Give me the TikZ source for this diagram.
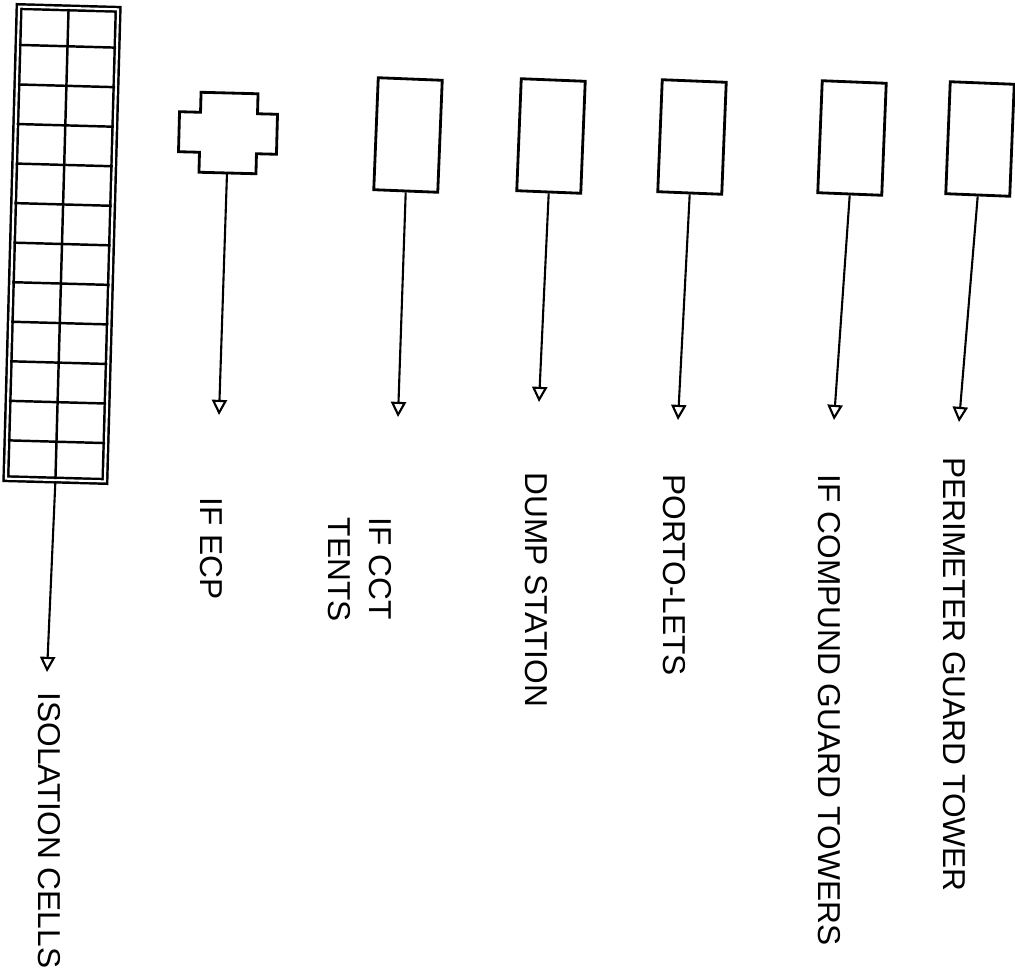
\documentclass[tikz,border=0pt]{standalone}
\usepackage{fontspec}
\setmainfont{Liberation Sans}
\usetikzlibrary{arrows.meta, calc}

\begin{document}
\begin{tikzpicture}[
      x=0.01cm, y=-0.01cm,
      box/.style={draw, line width=0.8pt, minimum width=0.64cm, minimum height=1.12cm, inner sep=0pt, rotate=-2.3},
      arr/.style={-{Triangle[open, length=4.3pt, width=4.3pt]}, line width=0.6pt},
      lbl/.style={font=\fontsize{9}{11.7}\selectfont, rotate=-90, anchor=west, inner sep=0pt},
   ]
      \useasboundingbox (0,0) rectangle (1015,979);

      % isolation cells
      \node[draw, line width=0.7pt, double, double distance=0.6pt, inner sep=0pt, rotate=-1.6,
            minimum width=0.99cm, minimum height=4.72cm] (cells) at (62,244) {};
      \draw[line width=0.7pt, shorten <=0.6pt, shorten >=0.6pt] (cells.north) -- (cells.south);
      \foreach \i in {1,...,11}
         \draw[line width=0.7pt, shorten <=0.6pt, shorten >=0.6pt]
            ($(cells.north west)!\i/12!(cells.south west)$) -- ($(cells.north east)!\i/12!(cells.south east)$);
      \coordinate (cellsend) at (47,672);
      \draw[arr] (cells.south) -- (cellsend);
      \node[lbl] (lcells) at (49,692) {ISOLATION CELLS};

      % IF ECP (cross)
      \draw[line width=0.8pt, rotate around={-1.5:(228,133)}]
         (200,93) -- (257,93) -- (257,113) -- (277,113) -- (277,153) -- (257,153)
         -- (257,173) -- (200,173) -- (200,153) -- (179,153) -- (179,113) -- (200,113) -- cycle;
      \coordinate (ecp) at (227,173);
      \coordinate (ecpend) at (219,415);
      \draw[arr] (ecp) -- (ecpend);
      \node[lbl] (lecp) at (211,497) {IF ECP};

      % IF CCT tents
      \node[box] (cct) at (408,135) {};
      \coordinate (cctend) at (398,417);
      \draw[arr] (cct.south) -- (cctend);
      \node[lbl, align=left] (lcct) at (360,517) {IF CCT\\TENTS};

      % dump station
      \node[box] (dump) at (551,136) {};
      \coordinate (dumpend) at (539,402);
      \draw[arr] (dump.south) -- (dumpend);
      \node[lbl] (ldump) at (536,472) {DUMP STATION};

      % porto-lets
      \node[box] (porto) at (692,137) {};
      \coordinate (portoend) at (678,420);
      \draw[arr] (porto.south) -- (portoend);
      \node[lbl] (lporto) at (674,474) {PORTO-LETS};

      % compound guard towers
      \node[box] (cgt) at (852,138) {};
      \coordinate (cgtend) at (834,420);
      \draw[arr] (cgt.south) -- (cgtend);
      \node[lbl] (lcgt) at (829,474) {IF COMPUND GUARD TOWERS};

      % perimeter guard tower
      \node[box] (pgt) at (980,139) {};
      \coordinate (pgtend) at (959,422);
      \draw[arr] (pgt.south) -- (pgtend);
      \node[lbl] (lpgt) at (954,457) {PERIMETER GUARD TOWER};
   \end{tikzpicture}
\end{document}
